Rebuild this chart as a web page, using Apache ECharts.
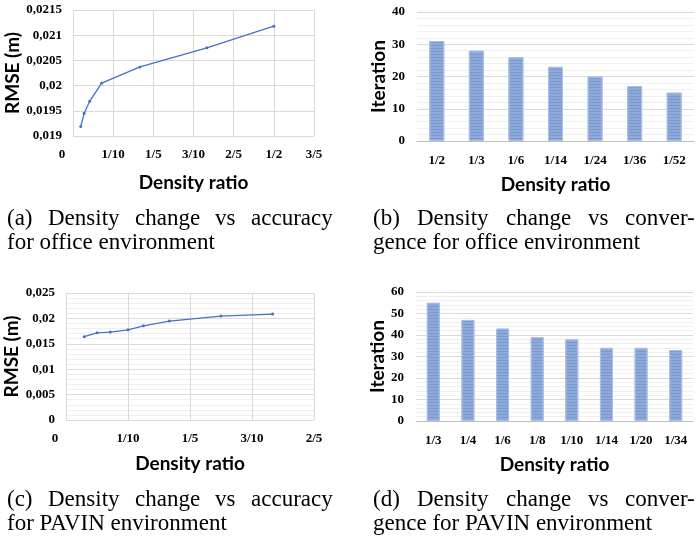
<!DOCTYPE html>
<html><head><meta charset="utf-8">
<script src="https://cdn.jsdelivr.net/npm/echarts@6/dist/echarts.min.js"></script>
<style>html,body{margin:0;padding:0;background:#fff}#c{width:700px;height:539px}</style>
</head><body><div id="c"></div>
<script>
// Panel (a): office, accuracy
const densityA = [0.0192, 0.0278, 0.0417, 0.0714, 0.1667, 0.3333, 0.5];
const rmseA = [0.01919, 0.01945, 0.01969, 0.02005, 0.02037, 0.02075, 0.02118];
const xTicksA = ['0', '1/10', '1/5', '3/10', '2/5', '1/2', '3/5'];
const yTicksA = ['0,019', '0,0195', '0,02', '0,0205', '0,021', '0,0215'];
// Panel (b): office, convergence
const catsB = ['1/2', '1/3', '1/6', '1/14', '1/24', '1/36', '1/52'];
const iterB = [31, 28, 26, 23, 20, 17, 15];
// Panel (c): PAVIN, accuracy
const densityC = [0.0294, 0.05, 0.0714, 0.1, 0.125, 0.1667, 0.25, 0.3333];
const rmseC = [0.0164, 0.01717, 0.0173, 0.01776, 0.01854, 0.01947, 0.02045, 0.02085];
const xTicksC = ['0', '1/10', '1/5', '3/10', '2/5'];
const yTicksC = ['0', '0,005', '0,01', '0,015', '0,02', '0,025'];
// Panel (d): PAVIN, convergence
const catsD = ['1/3', '1/4', '1/6', '1/8', '1/10', '1/14', '1/20', '1/34'];
const iterD = [55, 47, 43, 39, 38, 34, 34, 33];
// Captions
const capA = ['(a) Density change vs accuracy', 'for office environment'];
const capB = ['(b) Density change vs conver-', 'gence for office environment'];
const capC = ['(c) Density change vs accuracy', 'for PAVIN environment'];
const capD = ['(d) Density change vs conver-', 'gence for PAVIN environment'];

const labelFont = {fontFamily: 'Liberation Serif', fontWeight: 'bold', fontSize: 13, color: '#000'};
const nameFont = {fontFamily: 'Lato', fontWeight: 'bold', fontSize: 19, color: '#000'};
const gridColor = '#d9d9d9';
const minorColor = '#efefef';

function xValueAxis(gridIndex, max, ticks) {
  return {
    type: 'value', gridIndex, min: 0, max, interval: 0.1,
    name: 'Density ratio', nameLocation: 'middle', nameGap: gridIndex === 0 ? 37 : 34,
    nameTextStyle: nameFont,
    axisLine: {show: false}, axisTick: {show: false},
    splitLine: {show: true, lineStyle: {color: gridColor}},
    axisLabel: Object.assign({}, labelFont, {
      margin: 12,
      formatter: function (v) {
        const i = Math.round(v / 0.1);
        return i === 0 ? '{z|' + ticks[0] + '}' : ticks[i];
      },
      rich: {z: Object.assign({}, labelFont, {padding: [0, 22, 0, 0]})}
    })
  };
}
function yValueAxis(gridIndex, min, max, interval, ticks, gap, minor) {
  return {
    type: 'value', gridIndex, min, max, interval,
    name: 'RMSE (m)', nameLocation: 'middle', nameGap: gap, nameTextStyle: nameFont,
    axisLine: {show: false}, axisTick: {show: false},
    splitLine: {show: true, lineStyle: {color: gridColor}},
    minorTick: {show: false, splitNumber: 5},
    minorSplitLine: {show: minor, lineStyle: {color: minorColor}},
    axisLabel: Object.assign({}, labelFont, {
      margin: 11,
      formatter: function (v) { return ticks[Math.round((v - min) / interval)]; }
    })
  };
}
function catAxis(gridIndex, cats) {
  return {
    type: 'category', gridIndex, data: cats,
    name: 'Density ratio', nameLocation: 'middle', nameGap: 34, nameTextStyle: nameFont,
    axisLine: {show: true, lineStyle: {color: '#bfbfbf', width: 1}},
    axisTick: {show: false},
    axisLabel: Object.assign({}, labelFont, {margin: 13, interval: 0})
  };
}
function barY(gridIndex, max) {
  return {
    type: 'value', gridIndex, min: 0, max, interval: 10,
    name: 'Iteration', nameLocation: 'middle', nameGap: 22, nameTextStyle: nameFont,
    axisLine: {show: false}, axisTick: {show: false},
    splitLine: {show: true, lineStyle: {color: gridColor}},
    minorTick: {show: false, splitNumber: 5},
    minorSplitLine: {show: true, lineStyle: {color: minorColor}},
    axisLabel: Object.assign({}, labelFont, {margin: 12})
  };
}
const barStyle = {
  color: '#8eaadb', borderColor: '#a9bfe4', borderWidth: 1,
  decal: {symbol: 'rect', symbolSize: 1, dashArrayX: [10, 0], dashArrayY: [1, 2], color: 'rgba(90,120,180,0.35)'}
};
const lineStyleSeries = (xi, xs, ys) => ({
  type: 'line', xAxisIndex: xi, yAxisIndex: xi,
  data: xs.map((x, i) => [x, ys[i]]),
  symbol: 'circle', symbolSize: 3, showSymbol: true,
  lineStyle: {color: '#4472c4', width: 1.3},
  itemStyle: {color: '#4472c4'}, silent: true
});

// Caption layout: first line justified between x0 and x1, second line left aligned
const CAP_SIZE = 23;
const capStyle = {fontFamily: 'Liberation Serif', fontSize: CAP_SIZE, fontWeight: 'normal', color: '#000', lineHeight: 26};
const mctx = document.createElement('canvas').getContext('2d');
mctx.font = 'normal ' + CAP_SIZE + 'px "Liberation Serif"';
function caption(lines, x0, x1, y1, y2) {
  const ws = lines[0].split(' ');
  const widths = ws.map(w => mctx.measureText(w).width);
  const total = widths.reduce((a, b) => a + b, 0);
  const gap = (x1 - x0 - total) / (ws.length - 1);
  const out = [];
  let x = x0;
  ws.forEach((w, i) => {
    out.push({text: w, left: Math.round(x), top: y1 - 13, padding: 0, textStyle: capStyle});
    x += widths[i] + gap;
  });
  out.push({text: lines[1], left: x0, top: y2 - 13, padding: 0, textStyle: capStyle});
  return out;
}
const titles = [].concat(
  caption(capA, 7, 333, 219, 243),
  caption(capB, 373, 695, 219, 243),
  caption(capC, 7, 333, 500, 524),
  caption(capD, 373, 695, 500, 524)
);

const chart = echarts.init(document.getElementById('c'), null, {renderer: 'canvas'});
chart.setOption({
  animation: false,
  backgroundColor: '#fff',
  title: titles,
  grid: [
    {left: 73, top: 10, width: 241, height: 126},
    {left: 417, top: 12, width: 277, height: 129},
    {left: 66, top: 293, width: 248, height: 127},
    {left: 416, top: 292, width: 277, height: 129}
  ],
  xAxis: [
    xValueAxis(0, 0.6, xTicksA),
    catAxis(1, catsB),
    xValueAxis(2, 0.4, xTicksC),
    catAxis(3, catsD)
  ],
  yAxis: [
    yValueAxis(0, 0.019, 0.0215, 0.0005, yTicksA, 48, false),
    barY(1, 40),
    yValueAxis(2, 0, 0.025, 0.005, yTicksC, 41, true),
    barY(3, 60)
  ],
  series: [
    lineStyleSeries(0, densityA, rmseA),
    {type: 'bar', xAxisIndex: 1, yAxisIndex: 1, data: iterB, barWidth: 15, itemStyle: barStyle, silent: true},
    lineStyleSeries(2, densityC, rmseC),
    {type: 'bar', xAxisIndex: 3, yAxisIndex: 3, data: iterD, barWidth: 13, itemStyle: barStyle, silent: true}
  ]
});
</script></body></html>
